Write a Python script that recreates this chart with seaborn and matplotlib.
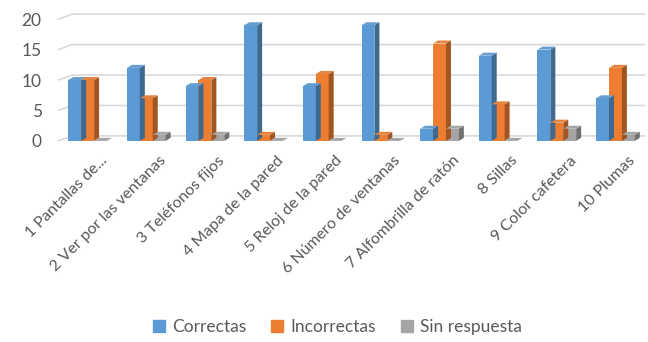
import pandas as pd
import matplotlib.pyplot as plt
import seaborn as sns
from matplotlib.patches import Polygon
from matplotlib.colors import to_rgb
from matplotlib.transforms import ScaledTranslation

# datos
preguntas = ['1 Pantallas de...', '2 Ver por las ventanas', '3 Teléfonos fijos',
             '4 Mapa de la pared', '5 Reloj de la pared', '6 Número de ventanas',
             '7 Alfombrilla de ratón', '8 Sillas', '9 Color cafetera', '10 Plumas']
correctas = [10, 12, 9, 19, 9, 19, 2, 14, 15, 7]
incorrectas = [10, 7, 10, 1, 11, 1, 16, 6, 3, 12]
sin_respuesta = [0, 1, 1, 0, 0, 0, 2, 0, 2, 1]
series = ['Correctas', 'Incorrectas', 'Sin respuesta']
colores = ['#5B9BD5', '#ED7D31', '#A5A5A5']

df = pd.DataFrame({'pregunta': preguntas * 3,
                   'serie': [s for s in series for _ in preguntas],
                   'valor': correctas + incorrectas + sin_respuesta})

sns.set_style('white')
plt.rcParams['font.family'] = ['Lato', 'DejaVu Sans']
gris_texto = '#595959'

fig = plt.figure(figsize=(6.48, 3.42), dpi=100)
ax = fig.add_axes([0.09, 0.588, 0.905, 0.356])

sns.barplot(data=df, x='pregunta', y='valor', hue='serie', palette=colores,
            width=0.66, ax=ax, legend=False, saturation=1, linewidth=0)
ax.set_ylim(0, 20)
ax.set_xlim(-0.5, len(preguntas) - 0.5)
ax.set_yticks([0, 5, 10, 15, 20])
ax.grid(False)
sns.despine(ax=ax, left=True, bottom=True)
ax.set_xlabel('')
ax.set_ylabel('')
ax.tick_params(axis='y', length=0, labelsize=12.5, labelcolor=gris_texto, pad=12)
ax.tick_params(axis='x', length=0, labelsize=11.5, labelcolor=gris_texto, pad=9)
desplaza = ScaledTranslation(9 / 72, 0, fig.dpi_scale_trans)
for lab in ax.get_xticklabels():
    lab.set_rotation(45)
    lab.set_ha('right')
    lab.set_rotation_mode('anchor')
    lab.set_transform(lab.get_transform() + desplaza)

fig.canvas.draw()
inv = ax.transData.inverted()

# rejilla de pared trasera con esquina en perspectiva
x_izq = ax.transData.transform((-0.5, 0))[0]
x_der = ax.transData.transform((len(preguntas) - 0.5, 0))[0]
for v in ax.get_yticks():
    yp = ax.transData.transform((0, v))[1]
    pts = inv.transform([(x_izq, yp), (x_izq + 14, yp + 5), (x_der, yp + 5)])
    ax.plot(pts[:, 0], pts[:, 1], color='#D9D9D9', lw=1.2, zorder=0.5, clip_on=False)

# efecto 3D: caras lateral y superior a partir de cada barra
dx, dy = 5, 3
for patch in list(ax.patches):
    x0, y0 = patch.get_x(), patch.get_y()
    w, h = patch.get_width(), patch.get_height()
    base = to_rgb(patch.get_facecolor())
    oscuro = tuple(c * 0.68 for c in base)
    claro = tuple(min(1, c * 0.85 + 0.1) for c in base)
    p = ax.transData.transform([(x0, y0), (x0 + w, y0), (x0 + w, y0 + h), (x0, y0 + h)])
    lado = [p[1], p[1] + (dx, dy), p[2] + (dx, dy), p[2]]
    tapa = [p[3], p[2], p[2] + (dx, dy), p[3] + (dx, dy)]
    ax.add_patch(Polygon(inv.transform(lado), closed=True, facecolor=oscuro,
                         edgecolor='none', clip_on=False, zorder=patch.get_zorder()))
    ax.add_patch(Polygon(inv.transform(tapa), closed=True, facecolor=claro,
                         edgecolor='none', clip_on=False, zorder=patch.get_zorder()))

handles = [plt.Line2D([], [], marker='s', linestyle='', markersize=8,
                      color=c, label=s) for s, c in zip(series, colores)]
fig.legend(handles=handles, loc='center', bbox_to_anchor=(0.52, 0.045), ncol=3,
           frameon=False, fontsize=12.5, labelcolor=gris_texto, handletextpad=0.35,
           handlelength=0.8, columnspacing=1.4)

fig.savefig('out.png', dpi=100)
